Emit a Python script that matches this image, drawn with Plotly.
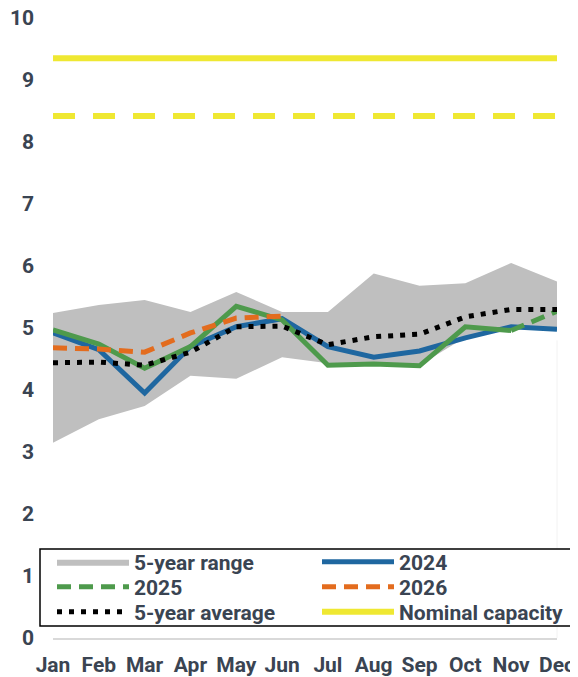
import plotly.graph_objects as go

months = ["Jan", "Feb", "Mar", "Apr", "May", "Jun", "Jul", "Aug", "Sep", "Oct", "Nov", "Dec"]
range_low = [3.15, 3.53, 3.74, 4.23, 4.18, 4.53, 4.43, 4.40, 4.40, 4.85, 5.00, 4.98]
range_high = [5.24, 5.37, 5.45, 5.26, 5.58, 5.26, 5.26, 5.88, 5.68, 5.72, 6.05, 5.75]
y2024 = [4.92, 4.65, 3.95, 4.70, 5.02, 5.15, 4.70, 4.53, 4.63, 4.84, 5.02, 4.98]
y2025_actual = [4.97, 4.74, 4.35, 4.70, 5.35, 5.13, 4.40, 4.42, 4.39, 5.02, 4.96]
y2025_forecast = [None] * 10 + [4.96, 5.27]
y2026 = [4.68, 4.66, 4.61, 4.92, 5.16, 5.19]
avg5 = [4.44, 4.45, 4.40, 4.61, 5.02, 5.03, 4.73, 4.86, 4.90, 5.18, 5.30, 5.30]
capacity_nominal = [9.35] * 12
capacity_other = [8.42] * 12

BLUE = "#1f67a0"
GREEN = "#4e9a4c"
ORANGE = "#e36c1e"
YELLOW = "#efe832"
GREY = "#bfbfbf"
TXT = "#3a4452"
FS = 21

# page body adds an 8px offset; layout positions are in figure pixels
OFF = 8
W, H = 570, 669
L, R, T, B = 53 - OFF, 557 - OFF, 18 - OFF, 638 - OFF   # plot area
px = lambda x: (x - OFF) / W
py = lambda y: (B - (y - OFF)) / (B - T)

fig = go.Figure()
fig.add_trace(go.Scatter(x=months, y=range_low, mode="lines", line=dict(width=0, color=GREY),
                         showlegend=False, hoverinfo="skip"))
fig.add_trace(go.Scatter(x=months, y=range_high, mode="lines", line=dict(width=0, color=GREY),
                         fill="tonexty", fillcolor=GREY, name="5-year range", legend="legend"))
fig.add_trace(go.Scatter(x=months, y=capacity_nominal, mode="lines", line=dict(width=6, color=YELLOW),
                         name="Nominal capacity", legend="legend6"))
fig.add_trace(go.Scatter(x=months, y=capacity_other, mode="lines",
                         line=dict(width=6, color=YELLOW, dash="22px,18px"),
                         showlegend=False))
fig.add_trace(go.Scatter(x=months, y=y2024, mode="lines", line=dict(width=5, color=BLUE),
                         name="2024", legend="legend2"))
fig.add_trace(go.Scatter(x=months[:11], y=y2025_actual, mode="lines", line=dict(width=5, color=GREEN),
                         showlegend=False))
fig.add_trace(go.Scatter(x=months, y=y2025_forecast, mode="lines",
                         line=dict(width=5, color=GREEN, dash="14px,8px"),
                         name="2025", legend="legend3"))
fig.add_trace(go.Scatter(x=months[:6], y=y2026, mode="lines",
                         line=dict(width=5, color=ORANGE, dash="14px,8px"),
                         name="2026", legend="legend4"))
fig.add_trace(go.Scatter(x=months, y=avg5, mode="lines",
                         line=dict(width=5, color="black", dash="5px,7px"),
                         name="5-year average", legend="legend5"))

# legend frame
fig.add_shape(type="rect", xref="paper", yref="paper",
              x0=px(40), x1=px(573), y0=py(626), y1=py(549),
              line=dict(color="black", width=1.5), fillcolor="white", layer="above")
# faint right edge below the data
fig.add_shape(type="line", xref="paper", yref="paper",
              x0=px(557), x1=px(557), y0=0, y1=0.48,
              line=dict(color="#f2f2f2", width=1), layer="below")

def leg(xpix, ypix):
    return dict(orientation="h", x=px(xpix), xanchor="left", y=py(ypix), yanchor="middle",
                borderwidth=0, bgcolor="rgba(0,0,0,0)", itemwidth=72,
                font=dict(family="Roboto", size=FS, color=TXT, weight="bold"))

col1, col2 = 52, 317
rows = [562, 587, 612]

fig.update_layout(
    width=W, height=H,
    margin=dict(l=0, r=0, t=T, b=H - B, autoexpand=False),
    paper_bgcolor="white", plot_bgcolor="rgba(0,0,0,0)",
    font=dict(family="Roboto", size=FS, color=TXT, weight="bold"),
    showlegend=True,
    legend=leg(col1, rows[0]),
    legend2=leg(col2, rows[0]),
    legend3=leg(col1, rows[1]),
    legend4=leg(col2, rows[1]),
    legend5=leg(col1, rows[2]),
    legend6=leg(col2, rows[2]),
    xaxis=dict(domain=[L / W, R / W], range=[0, 11], showgrid=False, zeroline=False,
               showline=True, linecolor="#d9d9d9", linewidth=2, ticks="",
               ticklabelstandoff=7, automargin=False, ticklabeloverflow="allow",
               tickfont=dict(family="Roboto", size=FS, color=TXT, weight="bold")),
    yaxis=dict(range=[0, 10], dtick=1, showgrid=False, zeroline=False, showline=False,
               ticks="", ticklabelstandoff=18, automargin=False, ticklabeloverflow="allow",
               tickfont=dict(family="Roboto", size=FS, color=TXT, weight="bold")),
)

fig.write_html("out.html")
